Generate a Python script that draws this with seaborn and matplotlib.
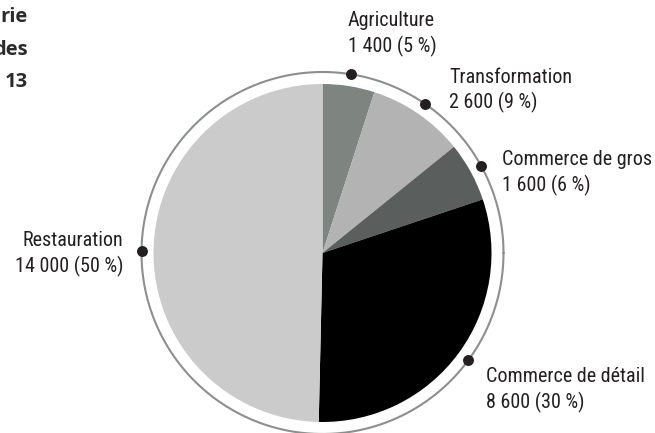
import os
import numpy as np
import matplotlib
matplotlib.use("Agg")
import matplotlib.pyplot as plt
from matplotlib import font_manager as fm
import seaborn as sns

# ---- data ----
categories = ["Agriculture", "Transformation", "Commerce de gros",
              "Commerce de détail", "Restauration"]
values = [1400, 2600, 1600, 8600, 14000]
value_labels = ["1 400", "2 600", "1 600", "8 600", "14 000"]
percent_labels = ["5 %", "9 %", "6 %", "30 %", "50 %"]
colors = ["#7e8581", "#b3b3b3", "#5a5e5c", "#000000", "#cbcbcb"]
title_fragments = ["rie", "des", "13"]

# label offsets from the ring dot, in pixels (dx, first-baseline dy up), alignment
label_offsets = [(-3, 48, "left"), (24, 21, "left"), (21, 1, "left"),
                 (18, -22, "left"), (-18, 5, "right")]
LINE_STEP = 26  # px between baselines

sns.set_theme(style="white")
plt.rcParams["font.family"] = ["Liberation Sans", "DejaVu Sans"]

W, H, DPI = 655, 433, 100
fig = plt.figure(figsize=(W / DPI, H / DPI), dpi=DPI)
renderer = fig.canvas.get_renderer()

# ---- choose the installed sans font closest to the condensed look ----
bases = ["Liberation Sans", "Roboto", "Noto Sans", "DejaVu Sans",
         "Open Sans", "Lato", "Inter"]
TARGET_W = 87.0          # px width of "Agriculture"
TARGET_RATIO = 84.0 / 15.0  # width / cap height
best = None
for f in fm.fontManager.ttflist:
    name = f.name
    if f.style != "normal":
        continue
    if f.weight not in (400, "normal", "regular", "book", "Regular"):
        continue
    ok = False
    for b in bases:
        if name == b:
            ok = True
        elif name.startswith(b + " ") and any(k in name.lower() for k in ("condensed", "narrow", "cond")):
            ok = True
    if not ok:
        continue
    try:
        fp = fm.FontProperties(fname=f.fname, size=20)
        w, h, d = renderer.get_text_width_height_descent("Agriculture", fp, ismath=False)
        wh, hh, dh = renderer.get_text_width_height_descent("H", fp, ismath=False)
    except Exception:
        continue
    if hh <= 0:
        continue
    score = abs(w / hh - TARGET_RATIO)
    if best is None or score < best[0]:
        best = (score, f.fname, w)

if best is not None:
    label_size = 20 * TARGET_W / best[2]
    label_fp = fm.FontProperties(fname=best[1], size=label_size)
else:
    label_fp = fm.FontProperties(family="Liberation Sans", size=13)

ax = fig.add_axes([0, 0, 1, 1])
R_PX = 169.0
cx, cy = 322.5, 253.0  # pixel centre (from top)
ax.pie(values, colors=colors, startangle=90, counterclock=False, radius=1,
       center=(0, 0), wedgeprops=dict(linewidth=0))
ax.set_xlim(-cx / R_PX, (W - cx) / R_PX)
ax.set_ylim(-(H - cy) / R_PX, cy / R_PX)
ax.set_aspect("auto")
ax.axis("off")

ring_r = 181.0 / R_PX
theta = np.linspace(0, 2 * np.pi, 400)
ax.plot(ring_r * np.cos(theta), ring_r * np.sin(theta), color="#8b908e",
        lw=1.5, zorder=3)

total = float(sum(values))
cum = np.cumsum([0] + values[:-1])
mid = (cum + np.array(values) / 2) / total  # fraction
ang = np.deg2rad(90 - mid * 360)
dot_x = ring_r * np.cos(ang)
dot_y = ring_r * np.sin(ang)
sns.scatterplot(x=dot_x, y=dot_y, ax=ax, color="#231f20", s=62,
                linewidth=0, zorder=4, legend=False)

PT = 72.0 / DPI
for i, cat in enumerate(categories):
    dx, dy, ha = label_offsets[i]
    lines = [cat, f"{value_labels[i]} ({percent_labels[i]})"]
    for j, line in enumerate(lines):
        ax.annotate(line, xy=(dot_x[i], dot_y[i]),
                    xytext=(dx * PT, (dy - j * LINE_STEP) * PT),
                    textcoords="offset points", ha=ha, va="baseline",
                    fontproperties=label_fp, color="#231f20",
                    annotation_clip=False)

baselines = [22, 55, 87]
for frag, b in zip(title_fragments, baselines):
    fig.text(28 / W, 1 - b / H, frag, ha="right", va="baseline",
             fontsize=14.5, fontweight="bold", color="#2b2b2b",
             family=["Open Sans", "DejaVu Sans"])

fig.savefig("out.png", dpi=DPI)
